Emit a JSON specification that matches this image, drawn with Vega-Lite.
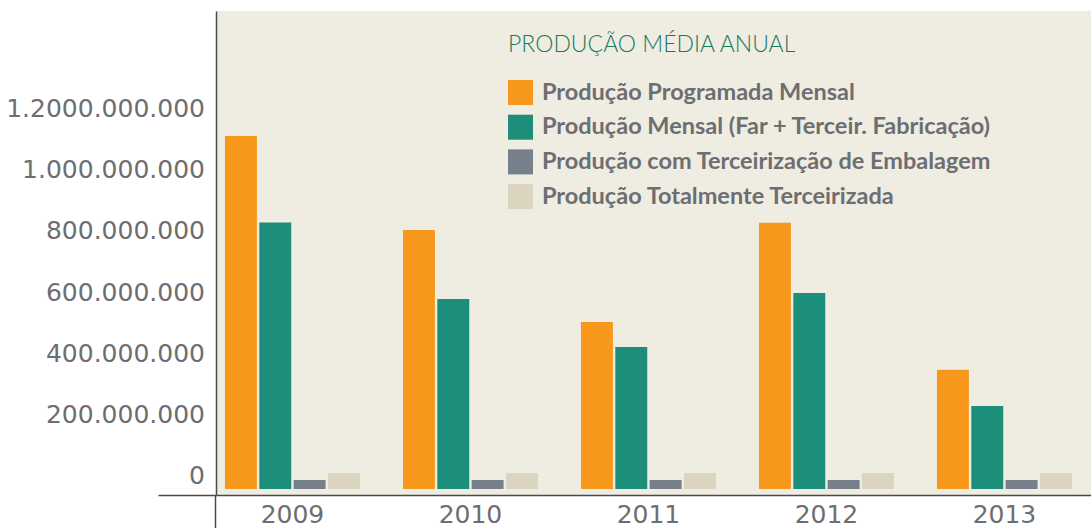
{
  "$schema": "https://vega.github.io/schema/vega-lite/v6.json",
  "width": 875,
  "height": 484,
  "autosize": {"type": "none"},
  "padding": {"left": 216, "top": 11, "right": 0, "bottom": 33},
  "background": "#ffffff",
  "view": {"fill": "#efece2", "stroke": null},
  "data": {
    "values": [
      {"ano": "2009", "serie": "Produção Programada Mensal", "valor": 1153000000},
      {"ano": "2009", "serie": "Produção Mensal (Far + Terceir. Fabricação)", "valor": 870000000},
      {"ano": "2009", "serie": "Produção com Terceirização de Embalagem", "valor": 29000000},
      {"ano": "2009", "serie": "Produção Totalmente Terceirizada", "valor": 52000000},
      {"ano": "2010", "serie": "Produção Programada Mensal", "valor": 846000000},
      {"ano": "2010", "serie": "Produção Mensal (Far + Terceir. Fabricação)", "valor": 620000000},
      {"ano": "2010", "serie": "Produção com Terceirização de Embalagem", "valor": 29000000},
      {"ano": "2010", "serie": "Produção Totalmente Terceirizada", "valor": 52000000},
      {"ano": "2011", "serie": "Produção Programada Mensal", "valor": 545000000},
      {"ano": "2011", "serie": "Produção Mensal (Far + Terceir. Fabricação)", "valor": 464000000},
      {"ano": "2011", "serie": "Produção com Terceirização de Embalagem", "valor": 29000000},
      {"ano": "2011", "serie": "Produção Totalmente Terceirizada", "valor": 52000000},
      {"ano": "2012", "serie": "Produção Programada Mensal", "valor": 869000000},
      {"ano": "2012", "serie": "Produção Mensal (Far + Terceir. Fabricação)", "valor": 640000000},
      {"ano": "2012", "serie": "Produção com Terceirização de Embalagem", "valor": 29000000},
      {"ano": "2012", "serie": "Produção Totalmente Terceirizada", "valor": 52000000},
      {"ano": "2013", "serie": "Produção Programada Mensal", "valor": 389000000},
      {"ano": "2013", "serie": "Produção Mensal (Far + Terceir. Fabricação)", "valor": 271000000},
      {"ano": "2013", "serie": "Produção com Terceirização de Embalagem", "valor": 29000000},
      {"ano": "2013", "serie": "Produção Totalmente Terceirizada", "valor": 52000000}
    ]
  },
  "mark": {"type": "bar"},
  "encoding": {
    "x": {
      "field": "ano",
      "type": "nominal",
      "scale": {"type": "band", "paddingInner": 0.2416, "paddingOuter": 0.0787, "align": 0.32},
      "axis": {
        "title": null,
        "labelAngle": 0,
        "labelFont": "DejaVu Sans",
        "labelFontSize": 25,
        "labelColor": "#6d6e71",
        "labelBaseline": "top",
        "labelPadding": -26,
        "bandPosition": -0.07,
        "tickSize": 33,
        "tickWidth": 1.5,
        "tickColor": "#4a4a4a",
        "tickOpacity": {"condition": {"test": "datum.value === '2009'", "value": 1}, "value": 0},
        "domainColor": "#4a4a4a",
        "domainWidth": 1.5,
        "grid": false
      }
    },
    "xOffset": {
      "field": "serie",
      "type": "nominal",
      "sort": null,
      "scale": {"paddingInner": 0.07, "paddingOuter": 0}
    },
    "y": {
      "field": "valor",
      "type": "quantitative",
      "stack": null,
      "scale": {"domain": [-19600000, 1560800000], "nice": false, "zero": false},
      "axis": {
        "title": null,
        "values": [-19600000, 0, 200000000, 400000000, 600000000, 800000000, 1000000000, 1200000000],
        "labelExpr": "datum.value < 0 ? '' : (datum.value == 1200000000 ? '1.2000.000.000' : replace(format(datum.value, ','), regexp(',', 'g'), '.'))",
        "labelFont": "DejaVu Sans",
        "labelFontSize": 25,
        "labelColor": "#6d6e71",
        "labelBaseline": "middle",
        "labelOffset": -13,
        "labelPadding": -46.5,
        "labelLimit": 400,
        "tickSize": 58,
        "tickWidth": 1.5,
        "tickColor": "#4a4a4a",
        "tickOpacity": {"condition": {"test": "datum.value < 0", "value": 1}, "value": 0},
        "domainColor": "#4a4a4a",
        "domainWidth": 1.5,
        "grid": false
      }
    },
    "color": {
      "field": "serie",
      "type": "nominal",
      "sort": null,
      "scale": {
        "domain": [
          "Produção Programada Mensal",
          "Produção Mensal (Far + Terceir. Fabricação)",
          "Produção com Terceirização de Embalagem",
          "Produção Totalmente Terceirizada"
        ],
        "range": ["#f7981d", "#1d8e79", "#75808b", "#dbd5c0"]
      },
      "legend": {
        "title": "PRODUÇÃO MÉDIA ANUAL",
        "orient": "none",
        "legendX": 292,
        "legendY": 23,
        "direction": "vertical",
        "titleFont": "Lato",
        "titleFontSize": 23,
        "titleFontWeight": 300,
        "titleColor": "#1b7a5b",
        "titlePadding": 23,
        "titleLimit": 700,
        "labelFont": "Lato",
        "labelFontSize": 23.5,
        "labelFontWeight": "bold",
        "labelColor": "#6d6e71",
        "labelOffset": 9,
        "labelLimit": 700,
        "symbolType": "square",
        "symbolSize": 625,
        "symbolStrokeWidth": 0,
        "symbolOpacity": 1,
        "rowPadding": 9.7
      }
    }
  }
}
